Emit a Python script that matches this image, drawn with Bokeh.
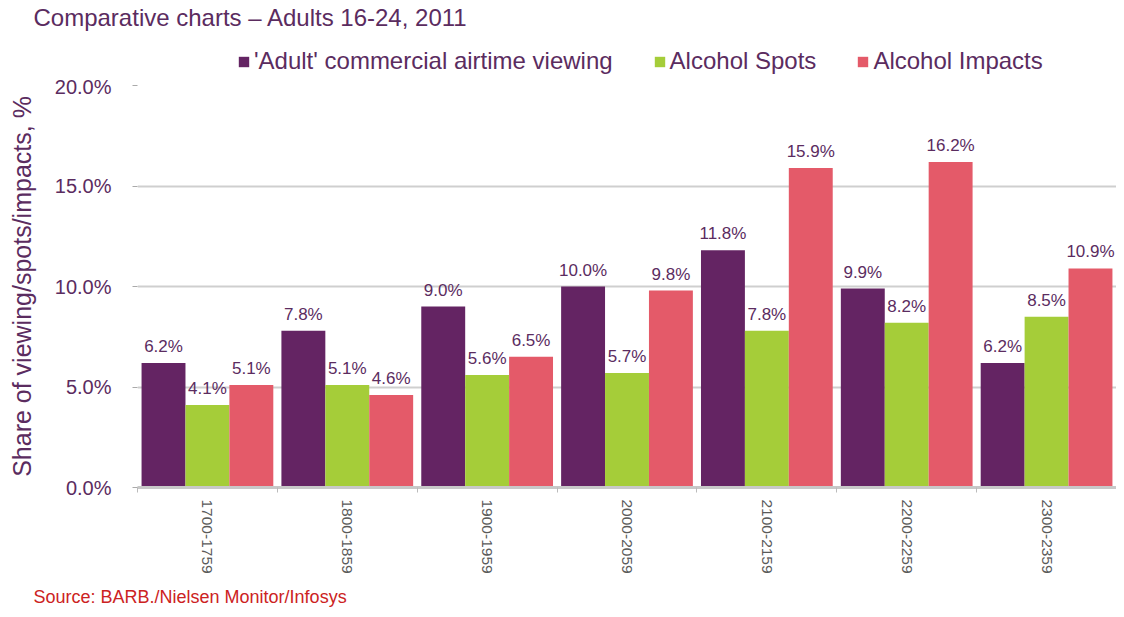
import math
from bokeh.plotting import figure
from bokeh.layouts import column
from bokeh.models import ColumnDataSource, LabelSet, Legend, LegendItem, FixedTicker, Title
from bokeh.core.properties import value
from bokeh.embed import file_html
from bokeh.resources import INLINE

categories = ["1700-1759", "1800-1859", "1900-1959", "2000-2059", "2100-2159", "2200-2259", "2300-2359"]
adult_viewing = [6.2, 7.8, 9.0, 10.0, 11.8, 9.9, 6.2]
alcohol_spots = [4.1, 5.1, 5.6, 5.7, 7.8, 8.2, 8.5]
alcohol_impacts = [5.1, 4.6, 6.5, 9.8, 15.9, 16.2, 10.9]
series_names = ["'Adult' commercial airtime viewing", "Alcohol Spots", "Alcohol Impacts"]
colors = ["#642463", "#a5cd39", "#e45a69"]
y_ticks = [0, 5, 10, 15, 20]

TEXT = "#5b2c5f"
FONT = "Liberation Sans"

# ---- header figure: title + legend ----
top = figure(width=1116, height=75, output_backend="svg", toolbar_location=None, title=None,
             x_range=(0, 1), y_range=(0, 1), x_axis_type=None, y_axis_type=None,
             min_border_left=137, min_border_right=0, min_border_top=13, min_border_bottom=0)
top.outline_line_color = None
top.xgrid.grid_line_color = None
top.ygrid.grid_line_color = None
leg_renderers = []
for col in colors:
    # zero-size proxy glyphs, only used to draw the legend swatches
    leg_renderers.append(top.vbar(x=[0], top=[0], bottom=[0], width=0, fill_color=col, line_color=None))
legend = Legend(items=[LegendItem(label=n, renderers=[r]) for n, r in zip(series_names, leg_renderers)],
                orientation="horizontal", location=(100, 0),
                label_text_font=FONT, label_text_font_size="24px", label_text_color=TEXT,
                glyph_width=13, glyph_height=13, spacing=40, label_standoff=4,
                background_fill_alpha=0, border_line_color=None, padding=0, margin=0)
top.add_layout(legend, "center")
top.add_layout(Title(text="Comparative charts \u2013 Adults  16-24, 2011", align="left", offset=-104,
                     standoff=2, text_font=FONT, text_font_size="24px", text_font_style="normal",
                     text_color=TEXT), "above")

# ---- main chart ----
p = figure(width=1116, height=539, output_backend="svg", toolbar_location=None, title=None,
           x_range=(0, len(categories)), y_range=(0, 20),
           min_border_left=137, min_border_right=0, min_border_top=10, min_border_bottom=126)
p.outline_line_color = None
p.background_fill_color = "white"
p.border_fill_color = "white"

bw = 0.314
offsets = [-bw, 0.0, bw]
for vals, off, col in zip([adult_viewing, alcohol_spots, alcohol_impacts], offsets, colors):
    xs = [i + 0.5 + off for i in range(len(categories))]
    src = ColumnDataSource(dict(x=xs, top=vals, lab=[f"{v:.1f}%" for v in vals]))
    p.vbar(x="x", top="top", width=bw, bottom=0, source=src, fill_color=col, line_color=None)
    ls = LabelSet(x="x", y="top", text="lab", source=src, text_align="center", text_baseline="alphabetic",
                  y_offset=11, text_font=value(FONT), text_font_size="17px", text_color=TEXT)
    p.add_layout(ls)

# y axis
p.yaxis.ticker = FixedTicker(ticks=y_ticks)
p.yaxis.major_label_overrides = {t: f"{t:.1f}%" for t in y_ticks}
p.yaxis.axis_line_color = None
p.yaxis.major_tick_in = 0
p.yaxis.major_tick_out = 5
p.yaxis.major_tick_line_color = "#aaaaaa"
p.yaxis.minor_tick_line_color = None
p.yaxis.major_label_text_font = FONT
p.yaxis.major_label_text_font_size = "20px"
p.yaxis.major_label_text_color = TEXT
p.yaxis.major_label_standoff = 21
p.yaxis.axis_label = "Share of viewing/spots/impacts, %"
p.yaxis.axis_label_text_font = FONT
p.yaxis.axis_label_text_font_size = "25px"
p.yaxis.axis_label_text_font_style = "normal"
p.yaxis.axis_label_text_color = TEXT
p.yaxis.axis_label_standoff = 16

# x axis
centers = [i + 0.5 for i in range(len(categories))]
p.xaxis.ticker = FixedTicker(ticks=centers, minor_ticks=list(range(len(categories) + 1)))
p.xaxis.major_label_overrides = {c: cat for c, cat in zip(centers, categories)}
p.xaxis.major_label_orientation = -math.pi / 2
p.xaxis.major_label_text_font = FONT
p.xaxis.major_label_text_font_size = "15.5px"
p.xaxis.major_label_text_color = "#5a5a5a"
p.xaxis.major_label_standoff = 7
p.xaxis.major_tick_line_color = None
p.xaxis.major_tick_in = 0
p.xaxis.major_tick_out = 0
p.xaxis.minor_tick_in = 0
p.xaxis.minor_tick_out = 5
p.xaxis.minor_tick_line_color = "#bbbbbb"
p.xaxis.axis_line_color = "#c8c8c8"
p.xaxis.axis_line_width = 3

p.xgrid.grid_line_color = None
p.ygrid.grid_line_color = "#cfcfcf"
p.ygrid.grid_line_width = 2

p.add_layout(Title(text="Source: BARB./Nielsen Monitor/Infosys", align="left", offset=-104,
                   standoff=16, text_font=FONT, text_font_size="18px", text_font_style="normal",
                   text_color="#cc2222"), "below")

layout = column(top, p, spacing=0)
open("out.html", "w").write(file_html(layout, INLINE))
